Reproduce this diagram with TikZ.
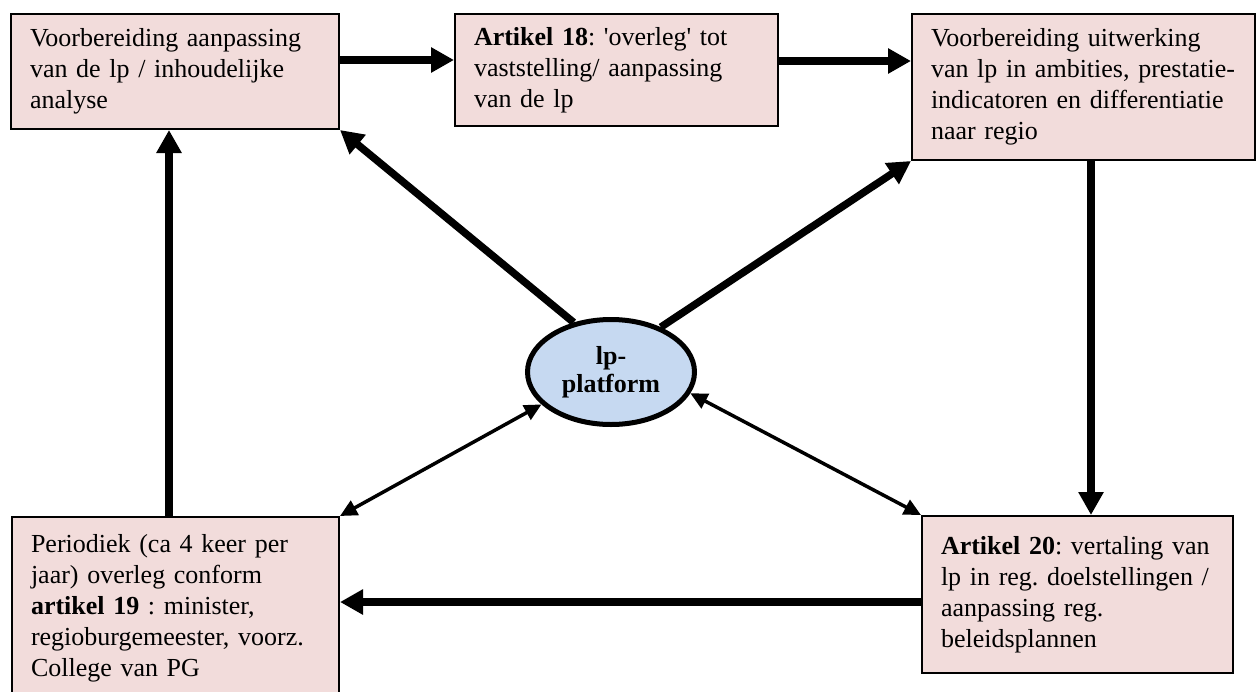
\documentclass[tikz,border=0pt]{standalone}
\usepackage{fontspec}
\setmainfont{Liberation Serif}
\usetikzlibrary{arrows.meta,shapes.geometric}
\definecolor{boxfill}{HTML}{F2DCDB}
\definecolor{ellfill}{HTML}{C6D9F1}
\frenchspacing
\begin{document}
\begin{tikzpicture}[x=1pt,y=-1pt,
  box/.style={draw=black, line width=2pt, fill=boxfill, anchor=north west, inner sep=0pt, align=left, font=\fontsize{26}{31}\selectfont\frenchspacing},
  bigarrow/.style={line width=7.5pt, -{Triangle[length=23pt,width=24pt]}},
  thinarrow/.style={line width=3.5pt, {Triangle[length=17pt,width=16pt]}-{Triangle[length=17pt,width=16pt]}}]
\clip (0,0) rectangle (1256,691);
\node[box, minimum width=328pt, minimum height=115pt, text width=290pt] (A) at (10,13)
  {Voorbereiding aanpassing\\van de lp / inhoudelijke\\analyse};
\node[box, minimum width=323pt, minimum height=112pt, text width=285pt] (B) at (454,13)
  {\textbf{Artikel 18}: \textquotesingle overleg\textquotesingle{} tot\\vaststelling/ aanpassing\\van de lp};
\node[box, minimum width=343pt, minimum height=146pt, text width=305pt] (C) at (911,13)
  {Voorbereiding uitwerking\\van lp in ambities, prestatie-\\indicatoren en differentiatie\\naar regio};
\node[box, minimum width=327pt, minimum height=182pt, text width=289pt] (D) at (11,516)
  {Periodiek (ca 4 keer per\\jaar) overleg conform\\\textbf{artikel 19} : minister,\\regioburgemeester, voorz.\\College van PG};
\node[box, minimum width=311pt, minimum height=157pt, text width=273pt] (E) at (921,515)
  {\textbf{Artikel 20}: vertaling van\\lp in reg. doelstellingen /\\aanpassing reg.\\beleidsplannen};
\draw[bigarrow] ([yshift=11.5pt]A.east) -- ([yshift=11.5pt]A.east -| B.west);
\draw[bigarrow] ([yshift=9pt]B.east) -- ([yshift=9pt]B.east -| C.west);
\draw[bigarrow] ([xshift=7.5pt]C.south) -- ([xshift=7.5pt]C.south |- E.north);
\draw[bigarrow] ([yshift=-7.5pt]E.west) -- ([yshift=-7.5pt]E.west -| D.east);
\draw[bigarrow] ([xshift=-6.5pt]D.north) -- ([xshift=-6.5pt]D.north |- A.south);
\node[ellipse, draw=black, line width=5pt, fill=ellfill, minimum width=167pt, minimum height=105pt, inner sep=0pt, align=center, font=\bfseries\fontsize{26}{28}\selectfont] (P) at (611,372) {lp-\\platform};
\draw[bigarrow] (P.127) -- (A.south east);
\draw[bigarrow] (P.42) -- (C.south west);
\draw[thinarrow] (P.205) -- (D.north east);
\draw[thinarrow] (P.345) -- (E.north west);
\end{tikzpicture}
\end{document}
